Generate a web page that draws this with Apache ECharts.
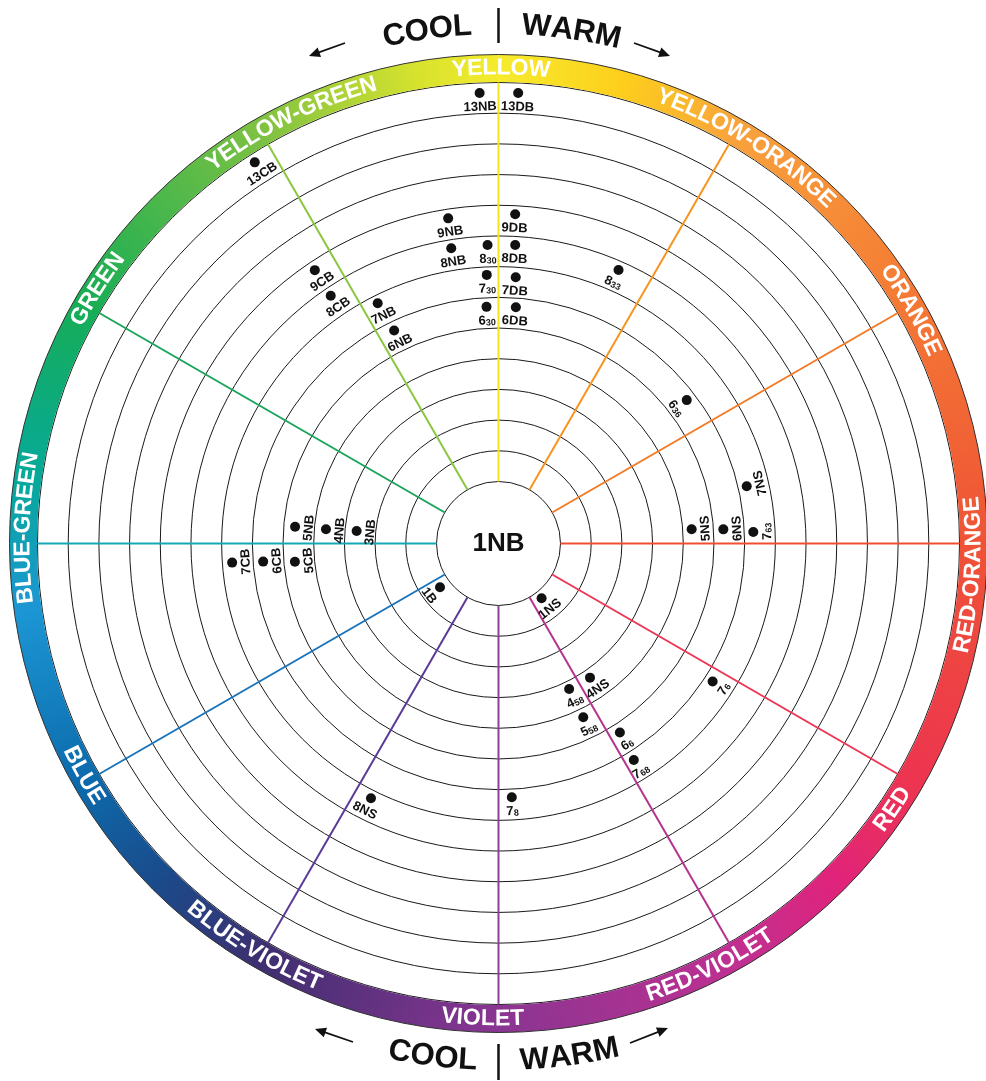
<!DOCTYPE html>
<html>
<head>
<meta charset="utf-8">
<script src="https://cdn.jsdelivr.net/npm/echarts/dist/echarts.min.js"></script>
<style>
html,body{margin:0;padding:0;background:#ffffff;}
#chart{width:986px;height:1081px;}
</style>
</head>
<body>
<div id="chart"></div>
<script>
// ---------------- data ----------------
const hueNames = ['YELLOW','YELLOW-ORANGE','ORANGE','RED-ORANGE','RED','RED-VIOLET','VIOLET','BLUE-VIOLET','BLUE','BLUE-GREEN','GREEN','YELLOW-GREEN'];
const hueAngles = [0,30,60,90,120,150,180,210,240,270,300,330];
const centerLabel = '1NB';
const tempLabels = ['COOL','WARM'];

// point labels ("_" marks a subscript)
const pointNames = ['13NB','13DB','13CB','9NB','9DB','9CB','8NB','8_30','8DB','8CB','8_33',
  '7NB','7_30','7DB','6NB','6_30','6DB','6_36','7NS','5NS','6NS','7_63',
  '5NB','4NB','3NB','7CB','6CB','5CB','1B','1NS','4NS','4_58','5_58','6_6','7_68','7_6','8NS','7_8'];
// angle: degrees clockwise from YELLOW (top)
const pointAngles = [357.6,2.5,327.4,351.2,2.9,326.1,350.9,357.9,3.2,325.9,23.7,
  333.3,357.5,3.7,333.9,357.1,4.2,52.7,77.0,85.8,86.4,87.4,
  274.7,274.7,275.0,265.9,265.6,264.9,233.2,141.8,145.7,154.1,154.0,147.3,148.0,122.8,206.6,177.0];
// radial value (ring number)
const pointRadii = [13.67,13.67,13.72,9.70,9.72,9.71,8.72,8.71,8.72,8.73,8.71,
  7.74,7.74,7.67,6.71,6.70,6.70,6.69,7.28,5.29,6.32,7.29,
  5.63,4.62,3.62,7.68,6.67,5.64,1.36,1.25,4.27,4.25,5.28,6.30,7.30,7.28,8.26,7.26];

// ---------------- layout / style ----------------
const CX = 498.5, CY = 543.5, R_IN = 62, R_OUT = 461, RING_OUT = 489;
const FONT = '"Liberation Sans", Arial, Helvetica, sans-serif';
const spokeColors = ['#f2e51d','#f7941d','#f47a24','#ef4e30','#ee3553','#b5338f','#8d3f97','#5b3a96','#1a74bb','#14a8b8','#1aa55a','#8cc63f','#f2e51d'];
const ringStops = [
  [0,'#f6eb2d'],[15,'#fdcf1c'],[30,'#f8a23c'],[60,'#f47834'],[90,'#ef5336'],[120,'#ed3450'],
  [135,'#e0237b'],[150,'#bf3091'],[180,'#8a3592'],[210,'#3d2f70'],[225,'#1b4a8a'],[240,'#0c6aab'],
  [262,'#1c96d4'],[278,'#06a99a'],[300,'#17ad55'],[330,'#7dc142'],[350,'#d6e22e'],[360,'#f6eb2d']
];
const ringLabelShift = [0.3,2,0.5,3.8,4,3.4,1.9,1.2,0.8,1.9,2.4,3.8];

const measureCtx = document.createElement('canvas').getContext('2d');
function textWidth(s, size){ measureCtx.font = 'bold ' + size + 'px ' + FONT; return measureCtx.measureText(s).width; }
function norm180(a){ return ((a + 180) % 360 + 360) % 360 - 180; }
function orient(theta){
  let rho = norm180(-theta), flip = false;
  if (rho < -70 || rho > 110){ rho = norm180(rho + 180); flip = true; }
  return {rho: rho, flip: flip};
}
function polarXY(theta, r){
  const t = theta * Math.PI / 180;
  return [CX + r * Math.sin(t), CY - r * Math.cos(t)];
}
function arcText(str, R, thetaC, size, fill){
  const o = orient(thetaC);
  const dir = o.flip ? -1 : 1;
  const ws = str.split('').map(ch => textWidth(ch, size));
  const W = ws.reduce((a,b)=>a+b,0);
  let s = -W/2;
  const out = [];
  str.split('').forEach((ch, i) => {
    const c = s + ws[i]/2; s += ws[i];
    const th = thetaC + dir * (c / R) * 180 / Math.PI;
    const p = polarXY(th, R);
    const rot = o.flip ? (180 - th) : (-th);
    out.push({type:'text', x:p[0], y:p[1], rotation: rot*Math.PI/180, z:10, silent:true,
      style:{text:ch, fill:fill, fontSize:size, fontWeight:'bold', fontFamily:FONT,
             align:'center', verticalAlign:'middle', textAlign:'center', textVerticalAlign:'middle'}});
  });
  return out;
}
function arrow(x1,y1,x2,y2){
  const dx=x2-x1, dy=y2-y1, L=Math.hypot(dx,dy), ux=dx/L, uy=dy/L, hl=11, hw=5;
  const bx=x2-ux*hl, by=y2-uy*hl;
  return [
    {type:'line', shape:{x1:x1,y1:y1,x2:bx+ux*2,y2:by+uy*2}, style:{stroke:'#111', lineWidth:1.8}, silent:true},
    {type:'polygon', shape:{points:[[x2,y2],[bx-uy*hw,by+ux*hw],[bx+uy*hw,by-ux*hw]]}, style:{fill:'#111'}, silent:true}
  ];
}

// ---------------- graphics: color ring, titles ----------------
const graphics = [];
for (let i = 0; i < ringStops.length - 1; i++){
  const a0 = ringStops[i][0], a1 = ringStops[i+1][0];
  const rm = (R_OUT + RING_OUT)/2;
  const p0 = polarXY(a0, rm), p1 = polarXY(a1, rm);
  graphics.push({type:'sector', silent:true, z:1,
    shape:{cx:CX, cy:CY, r:RING_OUT, r0:R_OUT+0.5,
           startAngle:(a0-90-0.3)*Math.PI/180, endAngle:(a1-90+0.3)*Math.PI/180, clockwise:true},
    style:{fill:new echarts.graphic.LinearGradient(p0[0],p0[1],p1[0],p1[1],
      [{offset:0,color:ringStops[i][1]},{offset:1,color:ringStops[i+1][1]}], true)}});
}
graphics.push({type:'circle', silent:true, z:2, shape:{cx:CX, cy:CY, r:RING_OUT}, style:{fill:'none', stroke:'#333', lineWidth:1}});
hueNames.forEach((n,i) => { arcText(n, (R_OUT+RING_OUT)/2 + 0.5, hueAngles[i] + ringLabelShift[i], 23, '#ffffff').forEach(e=>graphics.push(e)); });
// COOL | WARM top and bottom
arcText(tempLabels[0], 518, -7.9, 31, '#111').forEach(e=>graphics.push(e));
arcText(tempLabels[1], 518, 8.1, 31, '#111').forEach(e=>graphics.push(e));
arcText(tempLabels[0], 518, 187.3, 31, '#111').forEach(e=>graphics.push(e));
arcText(tempLabels[1], 518, 172.1, 31, '#111').forEach(e=>graphics.push(e));
graphics.push({type:'line', silent:true, shape:{x1:CX,y1:8,x2:CX,y2:43}, style:{stroke:'#111', lineWidth:2.5}});
graphics.push({type:'line', silent:true, shape:{x1:CX,y1:1044,x2:CX,y2:1080}, style:{stroke:'#111', lineWidth:2.5}});
arrow(345,43,309,56).forEach(e=>graphics.push(e));
arrow(634,43,670,56).forEach(e=>graphics.push(e));
arrow(353,1042,315,1029).forEach(e=>graphics.push(e));
arrow(630,1043,668,1028).forEach(e=>graphics.push(e));
graphics.push({type:'text', silent:true, z:10, x:CX, y:CY, style:{text:centerLabel, fill:'#111', fontSize:26, fontWeight:'bold', fontFamily:FONT, align:'center', verticalAlign:'middle', textAlign:'center', textVerticalAlign:'middle'}});

// ---------------- chart ----------------
const chart = echarts.init(document.getElementById('chart'), null, {renderer:'canvas'});
chart.setOption({
  backgroundColor:'#ffffff',
  animation:false,
  polar:{center:[CX, CY], radius:[R_IN, R_OUT]},
  angleAxis:{type:'value', min:0, max:360, interval:30, startAngle:90, clockwise:true,
    axisLine:{show:false}, axisTick:{show:false}, axisLabel:{show:false},
    splitLine:{show:true, lineStyle:{color:spokeColors, width:2}}},
  radiusAxis:{type:'value', min:1, max:14, interval:1,
    axisLine:{show:false}, axisTick:{show:false}, axisLabel:{show:false},
    splitLine:{show:true, lineStyle:{color:'#1a1a1a', width:1}}},
  graphic: graphics,
  series:[{
    type:'custom', coordinateSystem:'polar', z:5,
    data: pointRadii.map((r,i)=>[r, pointAngles[i]]),
    renderItem: function(params, api){
      const v = api.value(0), a = api.value(1);
      const p = api.coord([v, a]);
      const cs = params.coordSys;
      const dx = p[0]-cs.cx, dy = p[1]-cs.cy, r = Math.hypot(dx,dy) || 1;
      const ux = dx/r, uy = dy/r;
      const o = orient(a);
      const d = o.flip ? 14 : -14;
      const name = pointNames[params.dataIndex];
      const parts = name.split('_');
      const txt = parts.length > 1 ? parts[0] + '{s|' + parts[1] + '}' : parts[0];
      return {type:'group', children:[
        {type:'circle', shape:{cx:p[0], cy:p[1], r:5}, style:{fill:'#111'}},
        {type:'text', x:p[0]+ux*d, y:p[1]+uy*d, rotation:o.rho*Math.PI/180,
          style:{text:txt, fill:'#111', fontSize:13, fontWeight:'bold', fontFamily:FONT,
            align:'center', verticalAlign:'middle', textAlign:'center', textVerticalAlign:'middle',
            rich:{s:{fontSize:9, fontWeight:'bold', fontFamily:FONT, fill:'#111', color:'#111', verticalAlign:'bottom', padding:[3,0,0,0]}}}}
      ]};
    }
  }]
});
</script>
</body>
</html>
